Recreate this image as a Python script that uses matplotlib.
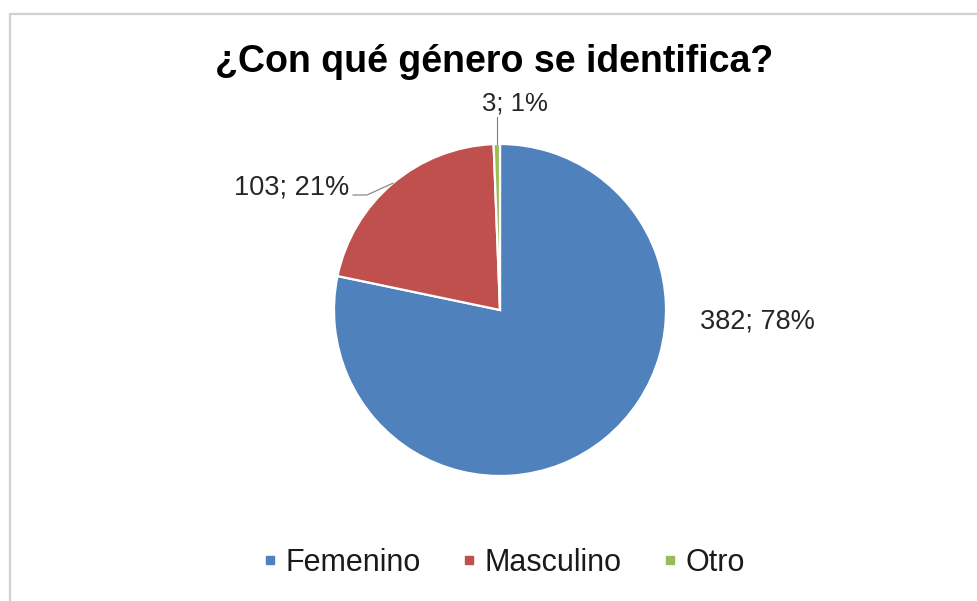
import numpy as np
import matplotlib
matplotlib.use("Agg")
import matplotlib.pyplot as plt
from matplotlib.lines import Line2D

# Survey answers: gender identification
categories = ["Femenino", "Masculino", "Otro"]
counts = [382, 103, 3]
colors = ["#4F81BD", "#C0504D", "#9BBB59"]
title = "¿Con qué género se identifica?"

plt.rcParams["font.family"] = ["Liberation Sans", "DejaVu Sans"]

W, H = 977, 601
fig = plt.figure(figsize=(W / 100, H / 100), dpi=100)
fig.patch.set_facecolor("white")

# axes spanning the whole canvas, in pixel units (y up)
ax = fig.add_axes([0, 0, 1, 1])

cx, cy, R = 500, H - 310, 166
wedges, _ = ax.pie(
    counts, colors=colors, startangle=90, counterclock=False,
    center=(cx, cy), radius=R, frame=True,
    wedgeprops=dict(edgecolor="white", linewidth=1.6),
)
ax.set_xlim(0, W)
ax.set_ylim(0, H)
ax.set_aspect("equal")
ax.axis("off")

total = sum(counts)
labels = [f"{c}; {round(100 * c / total):d}%" for c in counts]
txt_color = "#262626"

# data labels with leader lines where needed
def edge_point(w):
    a = np.deg2rad((w.theta1 + w.theta2) / 2)
    return cx + R * np.cos(a), cy + R * np.sin(a)

# Femenino: label outside, right side
ax.text(757, H - 322, labels[0], ha="center", va="center",
        fontsize=19.5, color=txt_color)

# Masculino: leader line to the left
ex, ey = edge_point(wedges[1])
ax.plot([ex, 367, 353], [ey, H - 195, H - 195], color="#7f7f7f", lw=0.8)
ax.text(349, H - 188, labels[1], ha="right", va="center",
        fontsize=19.5, color=txt_color)

# Otro: leader line straight up
ex, ey = edge_point(wedges[2])
ax.plot([ex, ex], [ey, H - 117], color="#7f7f7f", lw=0.8)
ax.text(515, H - 103, labels[2], ha="center", va="center",
        fontsize=18.5, color=txt_color)

# title
ax.text(494, H - 62, title, ha="center", va="center",
        fontsize=27, fontweight="bold", color="black")

# legend
handles = [Line2D([], [], marker="s", linestyle="none", markersize=6,
                  markerfacecolor=c, markeredgecolor=c) for c in colors]
fig.legend(handles, categories, loc="center", bbox_to_anchor=(502 / W, 1 - 563 / H),
           ncol=3, frameon=False, fontsize=22, handletextpad=0.15,
           columnspacing=1.25, handlelength=0.7, labelcolor="#1a1a1a")

# chart frame (top and left edges visible)
ax.plot([10, 10, W + 5], [-5, H - 14, H - 14], color="#d0d0d0", lw=1.6,
        solid_joinstyle="miter", clip_on=False)

fig.savefig("out.png", dpi=100, facecolor="white")
